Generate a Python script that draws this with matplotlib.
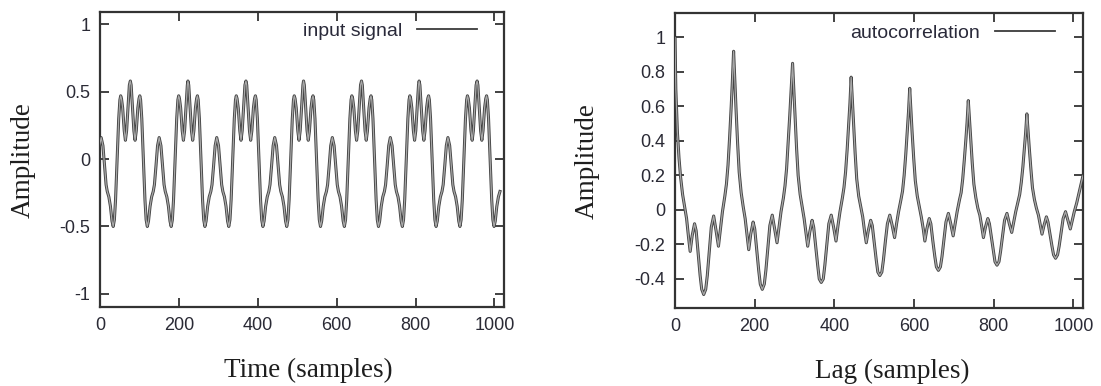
import matplotlib
matplotlib.use("Agg")
import matplotlib.pyplot as plt
from matplotlib.lines import Line2D
import numpy as np

# %%
# Values
# ---------------------------

# input signal: one cycle (offsets from the tallest peak) and the cycle centres
in_dt = [0, 2, 5, 9, 12, 15, 19, 22, 24, 26, 29, 33, 37, 40, 43, 46, 50, 54, 58, 61, 65, 69, 73,
         77.5, 81.5, 85.5, 88.5, 92.5, 96.5, 100.5, 103.5, 106.5, 109.5, 113.5, 117.5, 120.5,
         122.5, 124.5, 127.5, 131.5, 134.5, 137.5, 141.5, 144.5]
in_val = [0.58, 0.55, 0.40, 0.21, 0.14, 0.21, 0.38, 0.45, 0.47, 0.44, 0.30, 0.00, -0.30, -0.45,
          -0.50, -0.46, -0.35, -0.28, -0.24, -0.19, -0.05, 0.10, 0.16,
          0.10, -0.05, -0.19, -0.24, -0.28, -0.35, -0.46, -0.50, -0.45, -0.30, 0.00, 0.30, 0.44,
          0.47, 0.45, 0.38, 0.21, 0.14, 0.21, 0.40, 0.55]
in_centres = [-70, 77, 223, 370, 516, 663, 809, 956]
in_last = 1016

# autocorrelation: peak lags, offsets after each peak, values per period
ac_peaks = [0, 147, 295, 442, 589, 736, 883]
ac_dt = [0, 2, 6, 10, 14, 19, 24, 29, 34, 38, 43, 49, 53, 58, 63, 67, 72, 77, 81, 86, 91, 97,
         103, 109, 114, 119, 125, 129, 133, 137, 141, 144]
ac_vals = [
    [1.00, 0.70, 0.45, 0.30, 0.19, 0.09, 0.02, -0.05, -0.16, -0.24, -0.15, -0.08, -0.12, -0.25,
     -0.38, -0.46, -0.49, -0.46, -0.38, -0.24, -0.10, -0.035, -0.12, -0.21, -0.11, -0.01,
     0.08, 0.15, 0.26, 0.42, 0.60, 0.75],
    [0.92, 0.81, 0.59, 0.39, 0.22, 0.10, 0.02, -0.05, -0.15, -0.23, -0.14, -0.07, -0.11, -0.23,
     -0.35, -0.43, -0.46, -0.43, -0.35, -0.22, -0.09, -0.03, -0.11, -0.19, -0.10, -0.01,
     0.07, 0.14, 0.24, 0.39, 0.55, 0.68],
    [0.85, 0.75, 0.55, 0.36, 0.20, 0.09, 0.02, -0.05, -0.14, -0.21, -0.13, -0.06, -0.10, -0.21,
     -0.32, -0.40, -0.42, -0.40, -0.32, -0.20, -0.08, -0.03, -0.10, -0.18, -0.09, -0.01,
     0.07, 0.13, 0.22, 0.35, 0.50, 0.62],
    [0.77, 0.68, 0.49, 0.33, 0.18, 0.08, 0.02, -0.04, -0.13, -0.19, -0.12, -0.06, -0.09, -0.19,
     -0.29, -0.36, -0.38, -0.36, -0.29, -0.18, -0.08, -0.03, -0.09, -0.16, -0.08, -0.01,
     0.06, 0.11, 0.20, 0.32, 0.46, 0.57],
    [0.705, 0.62, 0.45, 0.30, 0.17, 0.08, 0.02, -0.04, -0.11, -0.18, -0.11, -0.05, -0.08, -0.18,
     -0.27, -0.33, -0.35, -0.33, -0.27, -0.17, -0.07, -0.02, -0.08, -0.15, -0.08, -0.01,
     0.06, 0.10, 0.18, 0.29, 0.41, 0.51],
    [0.634, 0.56, 0.41, 0.27, 0.15, 0.07, 0.01, -0.03, -0.10, -0.16, -0.10, -0.05, -0.08, -0.16,
     -0.24, -0.30, -0.32, -0.30, -0.24, -0.15, -0.06, -0.02, -0.08, -0.13, -0.07, -0.01,
     0.05, 0.09, 0.16, 0.25, 0.36, 0.45],
    [0.557, 0.49, 0.36, 0.24, 0.13, 0.06, 0.01, -0.03, -0.09, -0.14, -0.09, -0.04, -0.07, -0.14,
     -0.21, -0.26, -0.28, -0.26, -0.21, -0.13, -0.05, -0.01, -0.06, -0.11, -0.06, -0.01,
     0.04, 0.08, 0.12, 0.16, 0.20],
]

x_ticks = [0, 200, 400, 600, 800, 1000]
left_yticks = [-1, -0.5, 0, 0.5, 1]
left_ylabels = ["-1", "-0.5", "0", "0.5", "1"]
right_yticks = [-0.4, -0.2, 0, 0.2, 0.4, 0.6, 0.8, 1]
right_ylabels = ["-0.4", "-0.2", "0", "0.2", "0.4", "0.6", "0.8", "1"]

# %%
# Build the series
# ----------------

in_t = np.concatenate([c + np.array(in_dt) for c in in_centres])
in_y = np.tile(in_val, len(in_centres))
keep = in_t <= in_last
in_t, in_y = in_t[keep], in_y[keep]

ac_t = np.concatenate([p + np.array(ac_dt[:len(v)]) for p, v in zip(ac_peaks, ac_vals)])
ac_y = np.concatenate([np.array(v) for v in ac_vals])

# %%
# Plot
# ----

frame_c = "#333333"
text_c = "#1e1e1e"
tick_font = {"family": "Liberation Sans", "size": 13}
label_font = {"family": "Liberation Serif", "size": 19.5}

fig = plt.figure(figsize=(11.01, 3.86), dpi=100)
ax1 = fig.add_axes([0.0908, 0.2039, 0.3669, 0.7642])
ax2 = fig.add_axes([0.6131, 0.2013, 0.3706, 0.7642])


def draw(ax, t, y, label, yticks, ylabels, ylim, xlab, xlab_x, ylab_x, leg_xy):
    # dark edges with a lighter core, like the blurred original
    ax.plot(t, y, color="#444444", lw=2.2, solid_joinstyle="round", zorder=2)
    ax.plot(t, y, color="#a8a8a8", lw=0.9, solid_joinstyle="round", zorder=3)
    ax.set_xlim(0, 1024)
    ax.set_ylim(*ylim)
    ax.set_xticks(x_ticks)
    ax.set_xticklabels([str(v) for v in x_ticks], fontdict=tick_font, color="#2a2a35")
    ax.set_yticks(yticks)
    ax.set_yticklabels(ylabels, fontdict=tick_font, color="#2a2a35")
    ax.tick_params(direction="in", length=6.5, width=1.3, color=frame_c,
                   top=True, right=True, pad=7)
    for s in ax.spines.values():
        s.set_color(frame_c)
        s.set_linewidth(1.6)
    ax.set_xlabel(xlab, fontdict=label_font, color=text_c, va="center", ha="center")
    ax.xaxis.set_label_coords(xlab_x, -0.215)
    ax.set_ylabel("Amplitude", fontdict=label_font, color=text_c, va="center", ha="center")
    ax.yaxis.set_label_coords(ylab_x, 0.5)
    handle = Line2D([], [], color="#3a3a3a", lw=1.3)
    leg = ax.legend([handle], [label], loc="center right", bbox_to_anchor=leg_xy,
                    frameon=False, markerfirst=False, handlelength=3.1,
                    handletextpad=0.75, borderpad=0, borderaxespad=0,
                    prop={"family": "Liberation Sans", "size": 14})
    for txt in leg.get_texts():
        txt.set_color("#2a2a3a")


draw(ax1, in_t, in_y, "input signal", left_yticks, left_ylabels, (-1.1, 1.09),
     "Time (samples)", 0.516, -0.19, (0.933, 0.937))
draw(ax2, ac_t, ac_y, "autocorrelation", right_yticks, right_ylabels, (-0.57, 1.14),
     "Lag (samples)", 0.532, -0.214, (0.931, 0.933))

fig.savefig("out.png", dpi=100)
